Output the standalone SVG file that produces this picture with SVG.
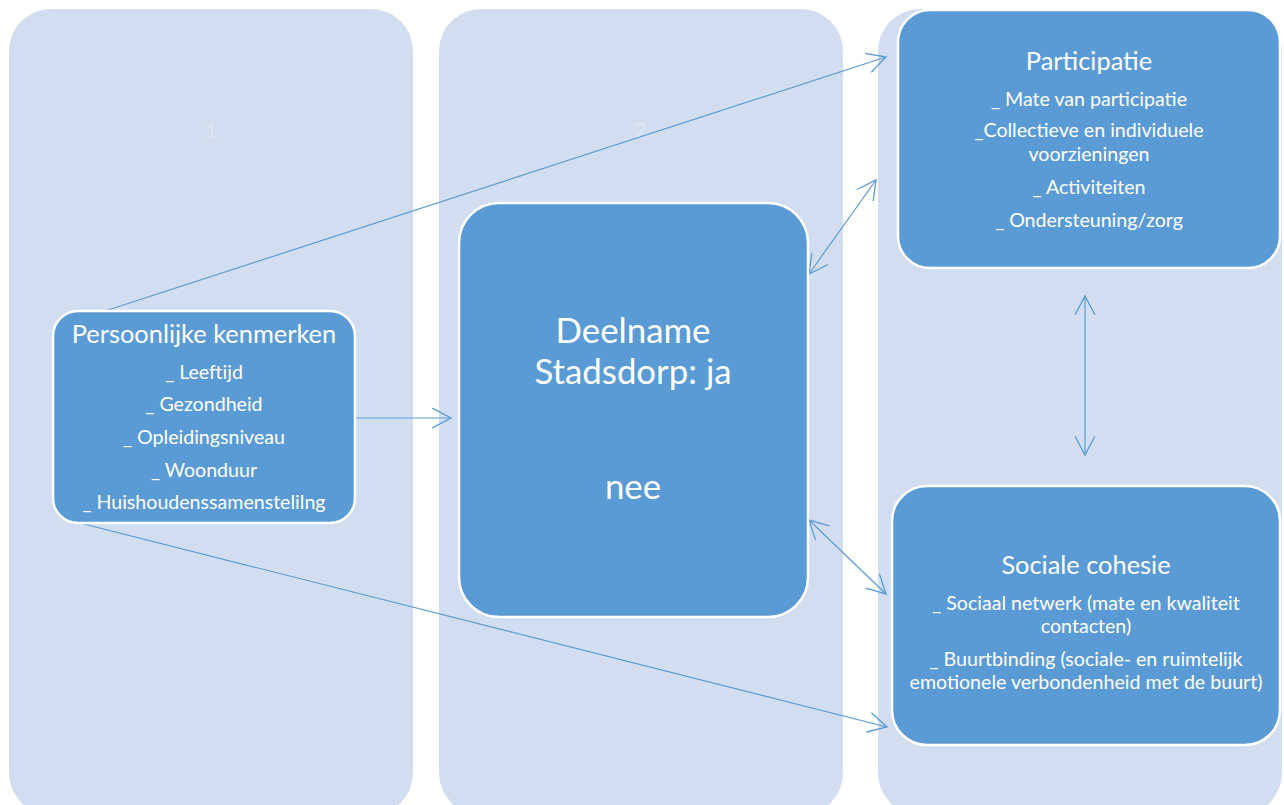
<svg xmlns="http://www.w3.org/2000/svg" width="1284" height="805" viewBox="0 0 1284 805">
<defs>
<style>
.col{fill:#d2deef}
.box{fill:#5b9bd5;stroke:#ffffff;stroke-width:2.5}
.t{font-family:"Lato","Open Sans","Liberation Sans",sans-serif;fill:#ffffff;text-anchor:middle}
.title{font-size:25.4px}
.item{font-size:19.6px}
.big{font-size:34.8px}
.num{font-family:"Lato","Liberation Sans",sans-serif;font-size:21px;fill:#ffffff;fill-opacity:0.25;text-anchor:middle}
.con{stroke:#5b9bd5;stroke-width:1.2;fill:none}
</style>
<marker id="arr" markerUnits="userSpaceOnUse" markerWidth="22" markerHeight="22" viewBox="0 0 20 20" refX="18" refY="10" orient="auto-start-reverse">
<path d="M1,1 L18,10 L1,19" fill="none" stroke="#5b9bd5" stroke-width="1.2"/>
</marker>
</defs>
<rect width="1284" height="805" fill="#ffffff"/>
<g id="columns">
<g id="col1"><rect class="col" x="9" y="9" width="404" height="806" rx="42"/><text class="num" x="211" y="138">1</text></g>
<g id="col2"><rect class="col" x="439" y="9" width="404" height="806" rx="42"/><text class="num" x="640" y="138">2</text></g>
<g id="col3"><rect class="col" x="878" y="9" width="404" height="806" rx="42"/></g>
</g>
<g id="connectors">
<line class="con" x1="102" y1="312" x2="886" y2="57" marker-end="url(#arr)"/>
<line class="con" x1="72" y1="521" x2="887" y2="727" marker-end="url(#arr)"/>
<line class="con" x1="355" y1="418" x2="451" y2="418" marker-end="url(#arr)"/>
<line class="con" x1="809" y1="274" x2="876" y2="180" marker-start="url(#arr)" marker-end="url(#arr)"/>
<line class="con" x1="809" y1="520" x2="886" y2="594" marker-start="url(#arr)" marker-end="url(#arr)"/>
<line class="con" x1="1085" y1="296" x2="1085" y2="455" marker-start="url(#arr)" marker-end="url(#arr)"/>
</g>
<g id="persoonlijke">
<rect class="box" x="53" y="311" width="302" height="212" rx="25"/>
<text class="t title" x="204" y="343">Persoonlijke kenmerken</text>
<text class="t item" x="204" y="379">_ Leeftijd</text>
<text class="t item" x="204" y="411">_ Gezondheid</text>
<text class="t item" x="204" y="444">_ Opleidingsniveau</text>
<text class="t item" x="204" y="477">_ Woonduur</text>
<text class="t item" x="204" y="509">_ Huishoudenssamenstelilng</text>
</g>
<g id="deelname">
<rect class="box" x="459" y="203" width="349" height="414" rx="40"/>
<text class="t big" x="633" y="343">Deelname</text>
<text class="t big" x="633" y="384">Stadsdorp: ja</text>
<text class="t big" x="633" y="499">nee</text>
</g>
<g id="participatie">
<rect class="box" x="898" y="10" width="382" height="258" rx="32"/>
<text class="t title" x="1089" y="70">Participatie</text>
<text class="t item" x="1089" y="106">_ Mate van participatie</text>
<text class="t item" x="1089" y="137">_Collectieve en individuele</text>
<text class="t item" x="1089" y="161">voorzieningen</text>
<text class="t item" x="1089" y="194">_ Activiteiten</text>
<text class="t item" x="1089" y="227">_ Ondersteuning/zorg</text>
</g>
<g id="sociale">
<rect class="box" x="892" y="486" width="388" height="259" rx="35"/>
<text class="t title" x="1086" y="574">Sociale cohesie</text>
<text class="t item" x="1086" y="610">_ Sociaal netwerk (mate en kwaliteit</text>
<text class="t item" x="1086" y="633">contacten)</text>
<text class="t item" x="1086" y="666">_ Buurtbinding (sociale- en ruimtelijk</text>
<text class="t item" x="1086" y="689">emotionele verbondenheid met de buurt)</text>
</g>
</svg>
